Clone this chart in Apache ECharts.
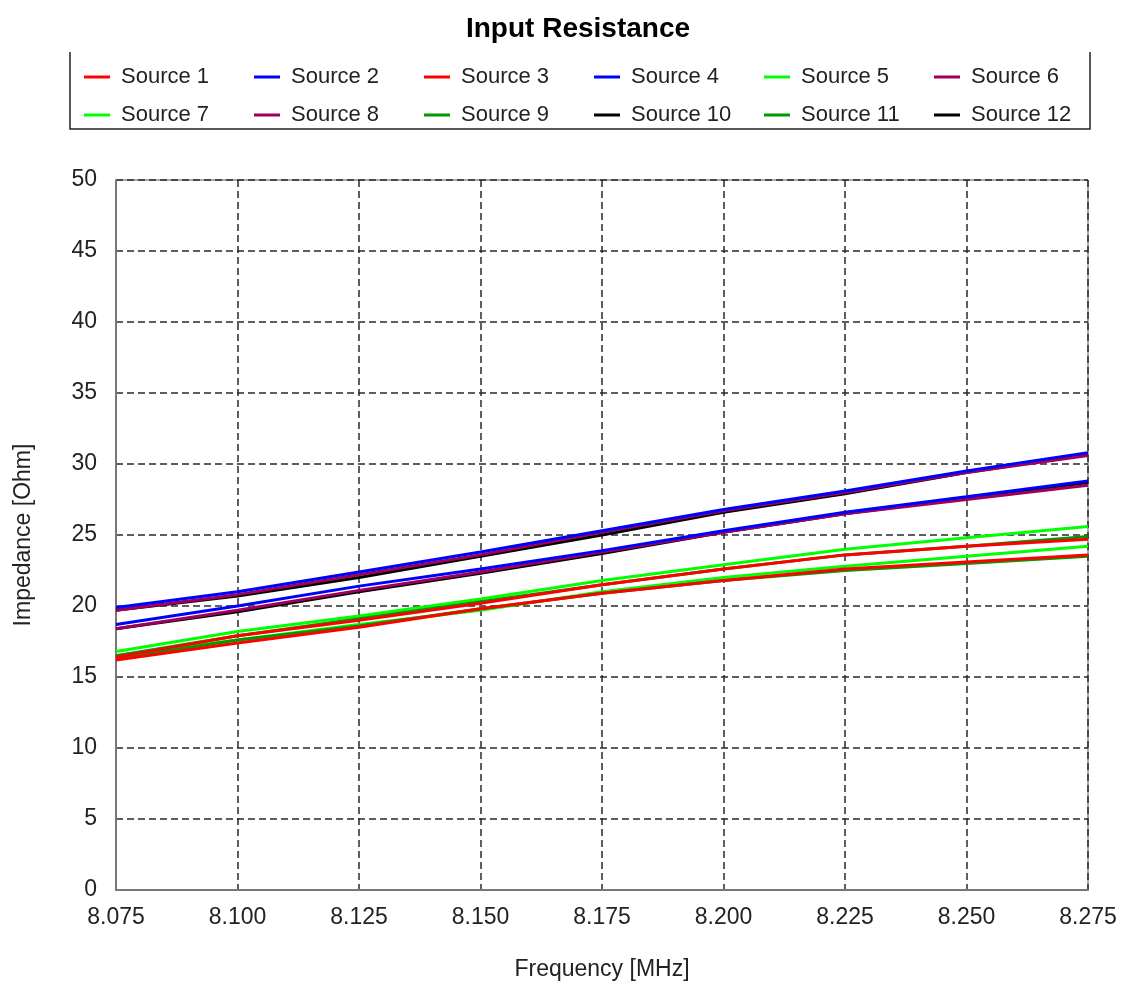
<!DOCTYPE html>
<html>
<head>
<meta charset="utf-8">
<script src="https://cdn.jsdelivr.net/npm/echarts@6/dist/echarts.min.js"></script>
<style>
html,body{margin:0;padding:0;background:#fff;}
#chart{width:1121px;height:986px;}
</style>
</head>
<body>
<div id="chart"></div>
<script>
const frequencies = [8.075, 8.100, 8.125, 8.150, 8.175, 8.200, 8.225, 8.250, 8.275];
const seriesNames = ['Source 1','Source 2','Source 3','Source 4','Source 5','Source 6','Source 7','Source 8','Source 9','Source 10','Source 11','Source 12'];
const seriesColors = ['#ff0000','#0000ff','#ff0000','#0000ff','#00ff00','#a0005a','#00ff00','#a0005a','#009900','#000000','#009900','#000000'];
const source1  = [16.4, 17.9, 19.0, 20.2, 21.5, 22.6, 23.6, 24.2, 24.7];
const source2  = [19.9, 21.0, 22.4, 23.8, 25.3, 26.8, 28.1, 29.5, 30.8];
const source3  = [16.2, 17.4, 18.5, 19.8, 20.9, 21.8, 22.6, 23.1, 23.6];
const source4  = [18.7, 20.0, 21.4, 22.6, 23.9, 25.3, 26.6, 27.7, 28.8];
const source5  = [16.8, 18.2, 19.3, 20.5, 21.8, 22.9, 24.0, 24.8, 25.6];
const source6  = [19.7, 20.8, 22.2, 23.6, 25.2, 26.7, 28.0, 29.4, 30.6];
const source7  = [16.5, 17.6, 18.7, 19.7, 21.0, 22.0, 22.8, 23.5, 24.2];
const source8  = [18.4, 19.7, 21.1, 22.4, 23.8, 25.2, 26.5, 27.5, 28.5];
const source9  = [16.5, 17.9, 19.1, 20.3, 21.5, 22.6, 23.6, 24.2, 24.9];
const source10 = [19.7, 20.7, 22.0, 23.5, 25.0, 26.6, 27.9, 29.4, 30.7];
const source11 = [16.3, 17.6, 18.6, 19.8, 20.9, 21.8, 22.5, 23.0, 23.5];
const source12 = [18.4, 19.6, 21.0, 22.3, 23.7, 25.2, 26.5, 27.6, 28.7];
const allValues = [source1,source2,source3,source4,source5,source6,source7,source8,source9,source10,source11,source12];
const zOrder = [4,5,4,5,3,4,3,4,3,3,3,3];

const chart = echarts.init(document.getElementById('chart'));
const FONT = '"Liberation Sans", Arial, sans-serif';

const series = seriesNames.map((n,i)=>({
  name:n, type:'line', symbol:'none', smooth:false, z:zOrder[i],
  color:seriesColors[i],
  lineStyle:{color:seriesColors[i], width:3},
  data: frequencies.map((f,j)=>[f, allValues[i][j]])
}));

const legends = seriesNames.map((n,i)=>{
  const col = i % 6, row = Math.floor(i/6);
  return {
    data:[n], left: 84 + col*170, top: 66 + row*38, padding:0,
    icon:'rect', itemWidth:26, itemHeight:3,
    textStyle:{fontFamily:FONT, fontSize:22, color:'#222', padding:[0,0,0,6]},
    selectedMode:false
  };
});

chart.setOption({
  animation:false,
  backgroundColor:'#fff',
  legend: legends,
  graphic:[
    {type:'text', x:578, y:29, z:10,
     style:{text:'Input Resistance', x:0, y:0, textAlign:'center', textVerticalAlign:'middle',
       font:'bold 28px "Liberation Sans", Arial, sans-serif', fill:'#000'}},
    {type:'polyline', z:10, shape:{points:[[70,52],[70,129],[1090,129],[1090,52]]},
     style:{stroke:'#222', lineWidth:1.5, fill:null}}
  ],
  grid:{left:116, right:33, top:180, bottom:95, show:true, borderColor:'#555', borderWidth:1},
  xAxis:{type:'value', min:8.075, max:8.275, interval:0.025,
    name:'Frequency [MHz]', nameLocation:'middle', nameGap:68,
    nameTextStyle:{fontFamily:FONT, fontSize:23, color:'#222'},
    axisLine:{show:true, lineStyle:{color:'#777', width:2}},
    axisTick:{show:false},
    axisLabel:{fontFamily:FONT, fontSize:23, color:'#222', margin:16,
      formatter:v=>v.toFixed(3)},
    splitLine:{show:true, lineStyle:{color:'#2a2a2a', type:[7,4], width:1.5}}},
  yAxis:{type:'value', min:0, max:50, interval:5,
    name:'Impedance [Ohm]', nameLocation:'middle', nameGap:81,
    nameTextStyle:{fontFamily:FONT, fontSize:23, color:'#222'},
    axisLine:{show:true, lineStyle:{color:'#777', width:2}},
    axisTick:{show:false},
    axisLabel:{fontFamily:FONT, fontSize:23, color:'#222', margin:19},
    splitLine:{show:true, lineStyle:{color:'#2a2a2a', type:[7,4], width:1.5}}},
  series: series
});
</script>
</body>
</html>
